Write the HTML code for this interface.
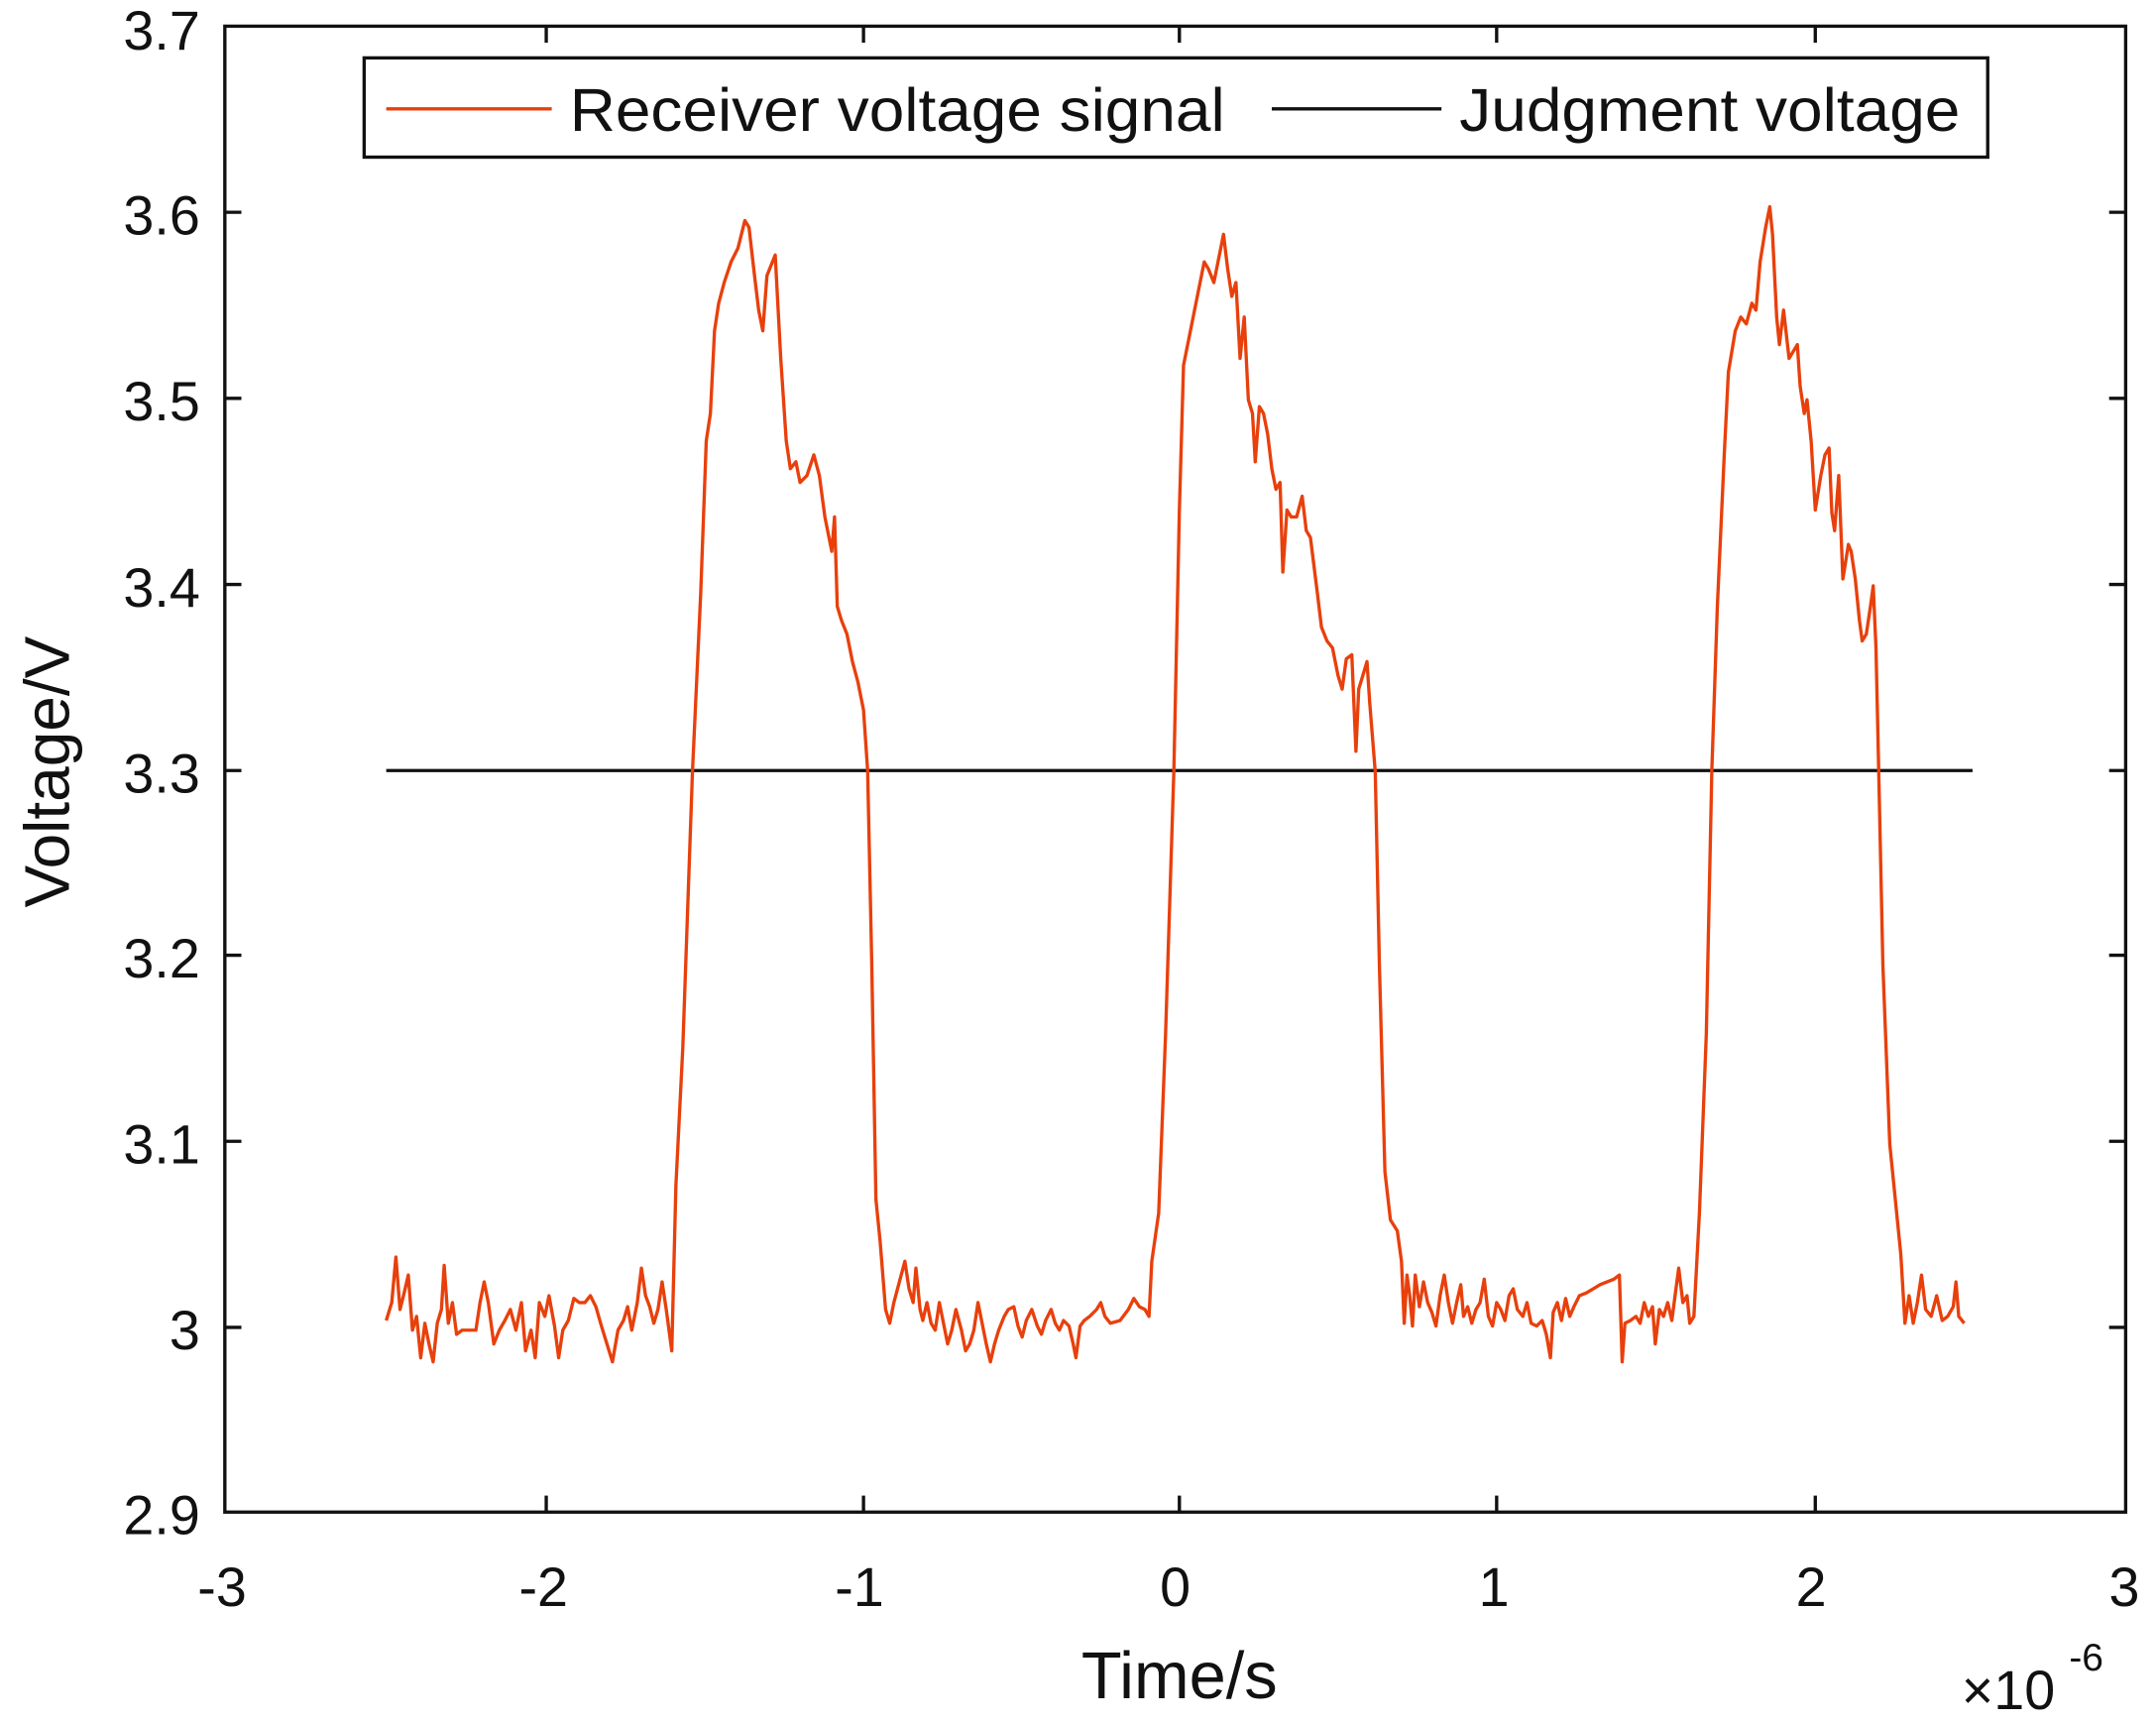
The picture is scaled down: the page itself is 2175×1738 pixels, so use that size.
<!DOCTYPE html>
<html><head><meta charset="utf-8"><style>
html,body{margin:0;padding:0;background:#fff;}
svg{display:block;}
text{font-family:"Liberation Sans",Arial,sans-serif;fill:#111;}
</style></head><body>
<svg width="2175" height="1738" viewBox="0 0 1563 1250" preserveAspectRatio="none" xmlns="http://www.w3.org/2000/svg">
<rect width="1563" height="1250" fill="#fff"/>
<g stroke="#111" stroke-width="2.4" fill="none">
<rect x="163" y="19" width="1378" height="1078"/>
<path d="M396,1097v-12M626,1097v-12M855,1097v-12M1085,1097v-12M1316,1097v-12
M396,19v12M626,19v12M855,19v12M1085,19v12M1316,19v12
M163,154h12M163,289h12M163,424h12M163,559h12M163,693h12M163,828h12M163,963h12
M1541,154h-12M1541,289h-12M1541,424h-12M1541,559h-12M1541,693h-12M1541,828h-12M1541,963h-12"/>
</g>
<g font-size="40" text-anchor="end">
<text x="145" y="36">3.7</text><text x="145" y="170">3.6</text><text x="145" y="305">3.5</text>
<text x="145" y="440">3.4</text><text x="145" y="575">3.3</text><text x="145" y="709">3.2</text>
<text x="145" y="844">3.1</text><text x="145" y="979">3</text><text x="145" y="1113">2.9</text>
</g>
<g font-size="40" text-anchor="middle">
<text x="161" y="1165">-3</text><text x="394" y="1165">-2</text><text x="623" y="1165">-1</text>
<text x="852" y="1165">0</text><text x="1083" y="1165">1</text><text x="1313" y="1165">2</text><text x="1540" y="1165">3</text>
</g>
<text x="855" y="1232" font-size="48" text-anchor="middle">Time/s</text>
<text x="1422" y="1240" font-size="40">×10</text><text x="1500" y="1212" font-size="28">-6</text>
<text transform="translate(50,560) rotate(-90)" font-size="46" text-anchor="middle">Voltage/V</text>
<rect x="264" y="42" width="1177" height="72" fill="#fff" stroke="#111" stroke-width="2.4"/>
<line x1="280" y1="79" x2="400" y2="79" stroke="#e8400c" stroke-width="2.4"/>
<text x="413" y="95" font-size="44" textLength="475" lengthAdjust="spacingAndGlyphs">Receiver voltage signal</text>
<line x1="922" y1="79" x2="1045" y2="79" stroke="#111" stroke-width="2.4"/>
<text x="1058" y="95" font-size="44" textLength="363" lengthAdjust="spacingAndGlyphs">Judgment voltage</text>
<line x1="280" y1="559" x2="1430" y2="559" stroke="#111" stroke-width="2.4"/>
<polyline fill="none" stroke="#e8400c" stroke-width="2.4" stroke-linejoin="round" points="
280,958 284,945 287,912 290,950 293,938 296,925 299,965 302,955 305,985 308,960 311,975 314,988 317,960 320,950 322,918 325,960 328,945 331,968 335,965 340,965 345,965 348,945 351,930 354,945 358,975 362,965 366,958 370,950 374,965 378,945 381,980 385,965 388,985 391,945 395,955 398,940 402,962 405,985 408,965 412,958 416,942 420,945 424,945 428,940 432,948 436,962 440,975 444,988 448,965 452,958 455,948 458,965 462,945 465,920 468,940 471,948 474,960 477,950 480,930 483,950 487,980
490,860 495,760 502,560 508,430 512,320 515,300 518,240 521,220 525,205 530,190 535,180 540,160 543,165 547,200 550,225 553,240 556,200 560,190 562,185 566,260 570,320 573,340 577,335 580,350 585,345 590,330 594,345 598,375 600,385 603,400 605,375 607,440 610,450 614,460 618,480 622,495 626,515 629,559 632,700 635,870 638,900 642,950 645,960
648,945 652,930 656,915 659,935 662,945 664,920 667,950 669,958 672,945 675,960 678,965 681,945 684,960 687,975 690,965 693,950 697,965 700,980 703,975 706,965 709,945 712,960 715,975 718,988 721,975 724,965 728,955 731,950 735,948 738,962 741,970 744,958 748,950 752,962 755,968 758,958 762,950 765,960 768,965 771,958 775,962 778,975 780,985 783,962 786,958 790,955 795,950 798,945 801,955 805,960
812,958 818,950 822,942 826,948 830,950 833,955 835,915 840,880 845,750 851,559 855,370 858,265 862,245 866,225 870,205 873,190 876,195 880,205 884,185 887,170 890,195 893,215 896,205 899,260 902,230 905,290 908,300 910,335 913,295 916,300 919,315 922,340 925,355 928,350 930,415 933,370 936,375 940,375 944,360 947,385 950,390 955,430 958,455 962,465 966,470 970,490 973,500 976,478 980,475 983,545 985,500 988,490 991,480 993,510 997,560 1000,700 1004,850 1008,885 1013,893 1016,915 1018,960 1020,925 1022,940 1024,962 1026,925 1029,948 1032,930 1035,945 1038,952 1041,962 1044,940 1047,925 1050,945 1053,960 1056,945 1059,932 1061,955 1064,948 1067,960 1070,950 1073,945 1076,928 1079,955 1082,962 1085,945 1088,950 1091,958 1094,940 1097,935 1100,950 1104,955 1107,945 1110,960 1114,962 1118,958 1121,968 1124,985 1126,952 1129,945 1132,958 1135,942 1138,955 1141,948 1145,940 1150,938 1155,935 1160,932 1165,930 1170,928 1174,925 1176,988 1178,960 1182,958 1186,955 1189,960 1192,945 1195,955 1198,948 1200,975 1203,950 1206,955 1209,945 1212,958 1215,935 1217,920 1220,945 1223,940 1225,960 1228,955
1232,880 1237,750 1241,559 1245,440 1250,330 1253,270 1258,240 1262,230 1266,235 1270,220 1273,225 1276,190 1280,165 1283,150 1285,170 1288,230 1290,250 1293,225 1297,260 1300,255 1303,250 1305,280 1308,300 1310,290 1313,320 1316,370 1320,345 1323,330 1326,325 1328,372 1330,385 1333,345 1336,420 1340,395 1342,400 1345,420 1348,450 1350,465 1353,460 1356,440 1358,425 1360,470 1362,560 1365,700 1370,830 1375,880 1378,910 1381,960 1384,940 1387,960 1390,945 1393,925 1396,950 1400,955 1404,940 1408,958 1412,955 1416,948 1418,930 1420,955 1424,960"/>
</svg>
</body></html>
